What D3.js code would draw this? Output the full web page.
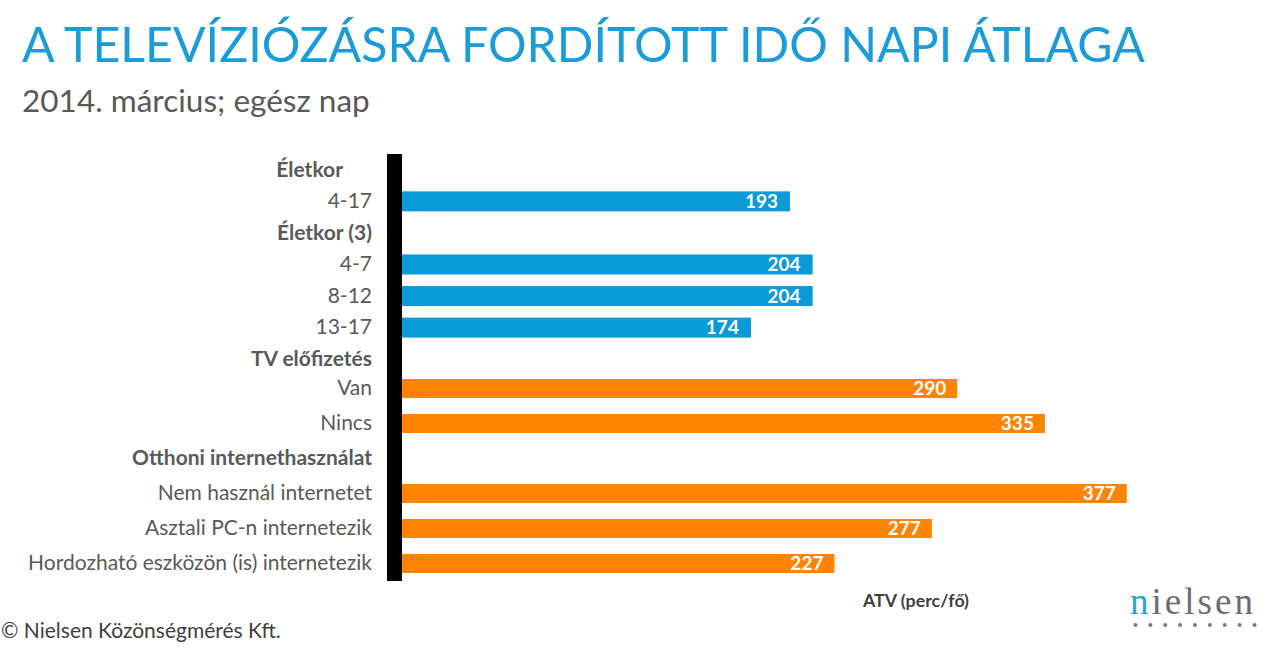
<!DOCTYPE html>
<html>
<head>
<meta charset="utf-8">
<script src="https://cdn.jsdelivr.net/npm/d3@7"></script>
<style>
  html, body { margin: 0; padding: 0; background: #ffffff; }
  svg { display: block; }
</style>
</head>
<body>
<svg id="chart" width="1285" height="666"></svg>
<script>
// ---- data ----
const titleText = "A TELEVÍZIÓZÁSRA FORDÍTOTT IDŐ NAPI ÁTLAGA";
const subtitleText = "2014. március; egész nap";
const footerText = "© Nielsen Közönségmérés Kft.";
const unitText = "ATV (perc/fő)";

const blueCategories = ["Életkor", "4-17", "Életkor (3)", "4-7", "8-12", "13-17"];
const blueValues     = [null, 193, null, 204, 204, 174];

const orangeCategories = ["TV előfizetés", "Van", "Nincs", "Otthoni internethasználat",
  "Nem használ internetet", "Asztali PC-n internetezik", "Hordozható eszközön (is) internetezik"];
const orangeValues     = [null, 290, 335, null, 377, 277, 227];

// ---- drawing ----
const svg = d3.select("#chart");
const FONT = "Lato, 'Open Sans', sans-serif";
const BLUE = "#0a9ad7";
const ORANGE = "#fe8402";
const LABEL = "#595959";

function fitWidth(sel, target) {
  const w = sel.node().getComputedTextLength();
  const fs = parseFloat(sel.attr("font-size"));
  sel.attr("font-size", fs * target / w);
}

// title & subtitle
const title = svg.append("text")
  .attr("x", 22).attr("y", 62)
  .attr("font-family", FONT).attr("font-size", 50)
  .attr("fill", "#1b9bd7")
  .text(titleText);
fitWidth(title, 1123);

const sub = svg.append("text")
  .attr("x", 22).attr("y", 112)
  .attr("font-family", FONT).attr("font-size", 28)
  .attr("fill", "#595959")
  .text(subtitleText);
fitWidth(sub, 348);

// scales
const yBlue = d3.scaleBand().domain(blueCategories).range([154, 343.4])
  .paddingInner(0.366).paddingOuter(0.183);
const yOrange = d3.scaleBand().domain(orangeCategories).range([336, 581])
  .paddingInner(0.457).paddingOuter(0.2285);
const xBlue = d3.scaleLinear().domain([0, 400]).range([393, 393 + 400 * 2.057]);
const xOrange = d3.scaleLinear().domain([0, 400]).range([392, 392 + 400 * 1.949]);

const groups = [
  { cats: blueCategories, vals: blueValues, y: yBlue, x: xBlue, color: BLUE, inset: 12 },
  { cats: orangeCategories, vals: orangeValues, y: yOrange, x: xOrange, color: ORANGE, inset: 11 }
];

const labelLayer = svg.append("g");
const barLayer = svg.append("g");

groups.forEach((g, gi) => {
  const rows = g.cats.map((c, i) => ({ cat: c, val: g.vals[i] }));
  // category labels via axis
  const axis = d3.axisLeft(g.y).tickSize(0).tickPadding(0);
  const ax = labelLayer.append("g").attr("transform", "translate(372,0)").call(axis);
  ax.select(".domain").remove();
  ax.selectAll(".tick text")
    .attr("font-family", FONT)
    .attr("font-size", 20)
    .attr("fill", LABEL)
    .attr("font-weight", d => g.vals[g.cats.indexOf(d)] == null ? "bold" : "normal")
    .attr("class", "catlabel");
  // first header sits a little further left in the original slide
  if (gi === 0) ax.selectAll(".tick text").filter((d, i) => i === 0).attr("x", -29);
  // second group's first header sits slightly lower in the original
  if (gi === 1) ax.selectAll(".tick text").filter((d, i) => i === 0).attr("dy", "0.6em");

  const withVal = rows.filter(r => r.val != null);
  barLayer.selectAll(null).data(withVal).enter().append("rect")
    .attr("x", g.x(0))
    .attr("y", d => g.y(d.cat))
    .attr("width", d => g.x(d.val) - g.x(0))
    .attr("height", g.y.bandwidth())
    .attr("fill", g.color);
  barLayer.selectAll(null).data(withVal).enter().append("text")
    .attr("x", d => g.x(d.val) - g.inset)
    .attr("y", d => g.y(d.cat) + g.y.bandwidth() / 2)
    .attr("dy", "0.36em")
    .attr("text-anchor", "end")
    .attr("font-family", FONT)
    .attr("font-weight", "bold")
    .attr("font-size", 19)
    .attr("fill", "#ffffff")
    .text(d => d.val);
});

// fit label size so the longest label spans to x=28
let maxW = 0;
labelLayer.selectAll("text.catlabel").each(function () {
  maxW = Math.max(maxW, this.getComputedTextLength());
});
const labelSize = 20 * 344 / maxW;
labelLayer.selectAll("text.catlabel").attr("font-size", labelSize);

// thick black axis line
svg.append("line")
  .attr("x1", 394.5).attr("x2", 394.5)
  .attr("y1", yBlue.range()[0]).attr("y2", yOrange.range()[1])
  .attr("stroke", "#000").attr("stroke-width", 15);

// unit label
const unit = svg.append("text")
  .attr("x", 863).attr("y", 607)
  .attr("font-family", FONT).attr("font-weight", "bold").attr("font-size", 15)
  .attr("fill", "#404040")
  .text(unitText);
fitWidth(unit, 106);

// footer
const foot = svg.append("text")
  .attr("x", 1).attr("y", 638)
  .attr("font-family", FONT).attr("font-size", 19)
  .attr("fill", "#404040")
  .text(footerText);
fitWidth(foot, 280);

// nielsen logo
const logo = svg.append("text")
  .attr("x", 1130).attr("y", 614)
  .attr("font-family", "'Liberation Serif', 'DejaVu Serif', serif")
  .attr("font-size", 37)
  .attr("textLength", 123).attr("lengthAdjust", "spacing");
logo.append("tspan").attr("fill", "#29a4d9").text("n");
logo.append("tspan").attr("fill", "#6b6c70").text("ielsen");
const dotX = d3.scaleLinear().domain([0, 8]).range([1135.5, 1254.5]);
svg.append("g").selectAll("circle").data(d3.range(9)).enter().append("circle")
  .attr("cx", d => dotX(d)).attr("cy", 625).attr("r", 2).attr("fill", "#7b7b7b");
</script>
</body>
</html>
